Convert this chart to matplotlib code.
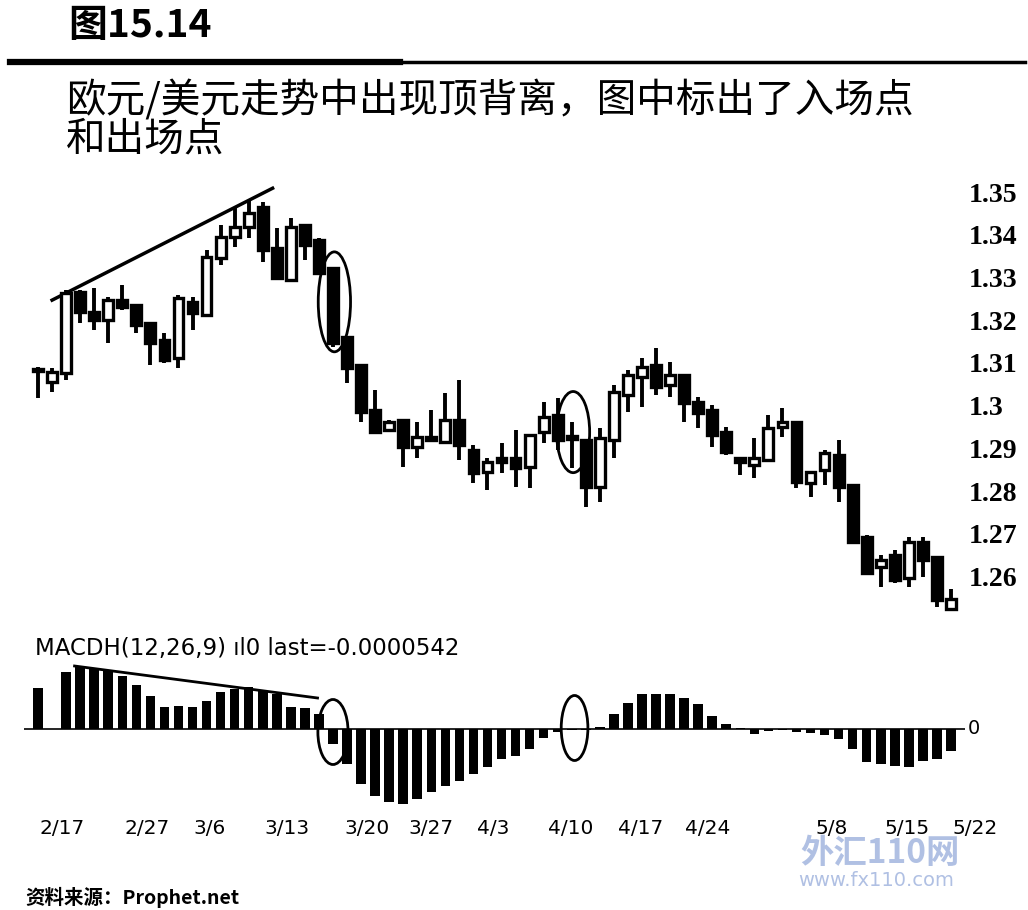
import numpy as np
import matplotlib.pyplot as plt
from matplotlib.patches import Rectangle, Ellipse
from matplotlib.lines import Line2D

# EUR/USD daily candles
opens = [1.3080, 1.3056, 1.3076, 1.3266, 1.3219, 1.3200, 1.3247, 1.3236, 1.3193, 1.3154,
         1.3112, 1.3243, 1.3212, 1.3345, 1.3395, 1.3418, 1.3465, 1.3369, 1.3294, 1.3423,
         1.3388, 1.3322, 1.3161, 1.3095, 1.2990, 1.2943, 1.2966, 1.2903, 1.2920, 1.2915,
         1.2966, 1.2896, 1.2845, 1.2878, 1.2878, 1.2857, 1.2938, 1.2978, 1.2929, 1.2920,
         1.2810, 1.2920, 1.3025, 1.3067, 1.3095, 1.3049, 1.3072, 1.3008, 1.2990, 1.2938,
         1.2878, 1.2862, 1.2873, 1.2950, 1.2962, 1.2819, 1.2850, 1.2885, 1.2814, 1.2693,
         1.2622, 1.2651, 1.2597, 1.2681, 1.2646, 1.2524]
highs = [1.3091, 1.3088, 1.3271, 1.3271, 1.3275, 1.3254, 1.3282, 1.3238, 1.3196, 1.3170,
         1.3259, 1.3254, 1.3364, 1.3423, 1.3463, 1.3481, 1.3477, 1.3416, 1.3439, 1.3425,
         1.3392, 1.3325, 1.3163, 1.3097, 1.3037, 1.2966, 1.2968, 1.2962, 1.2990, 1.3030,
         1.3060, 1.2908, 1.2878, 1.2913, 1.2943, 1.2931, 1.3009, 1.3018, 1.2962, 1.2920,
         1.2948, 1.3048, 1.3083, 1.3112, 1.3135, 1.3102, 1.3072, 1.3020, 1.3001, 1.2950,
         1.2880, 1.2924, 1.2978, 1.2995, 1.2962, 1.2845, 1.2896, 1.2920, 1.2814, 1.2697,
         1.2651, 1.2662, 1.2693, 1.2693, 1.2646, 1.2571]
lows = [1.3019, 1.3032, 1.3060, 1.3193, 1.3177, 1.3147, 1.3224, 1.3170, 1.3095, 1.3100,
        1.3088, 1.3177, 1.3210, 1.3329, 1.3371, 1.3392, 1.3336, 1.3299, 1.3289, 1.3340,
        1.3310, 1.3137, 1.3053, 1.2962, 1.2935, 1.2938, 1.2856, 1.2878, 1.2917, 1.2913,
        1.2873, 1.2819, 1.2803, 1.2842, 1.2810, 1.2807, 1.2913, 1.2896, 1.2854, 1.2763,
        1.2775, 1.2878, 1.2985, 1.2997, 1.3025, 1.3020, 1.2962, 1.2948, 1.2903, 1.2884,
        1.2838, 1.2831, 1.2873, 1.2927, 1.2807, 1.2786, 1.2814, 1.2775, 1.2679, 1.2604,
        1.2576, 1.2585, 1.2576, 1.2599, 1.2529, 1.2520]
closes = [1.3082, 1.3079, 1.3264, 1.3219, 1.3200, 1.3247, 1.3231, 1.3189, 1.3147, 1.3107,
          1.3252, 1.3217, 1.3348, 1.3395, 1.3418, 1.3451, 1.3364, 1.3299, 1.3418, 1.3376,
          1.3310, 1.3147, 1.3088, 1.2985, 1.2938, 1.2962, 1.2903, 1.2927, 1.2927, 1.2966,
          1.2908, 1.2842, 1.2868, 1.2868, 1.2854, 1.2931, 1.2973, 1.2920, 1.2922, 1.2810,
          1.2924, 1.3032, 1.3072, 1.3091, 1.3044, 1.3072, 1.3006, 1.2983, 1.2931, 1.2892,
          1.2868, 1.2878, 1.2948, 1.2962, 1.2821, 1.2845, 1.2889, 1.2810, 1.2681, 1.2608,
          1.2639, 1.2592, 1.2681, 1.2639, 1.2545, 1.2548]

# MACD histogram, units of 0.0001
macd_hist = [20.5, 0, 28.5, 31, 30, 29, 26.5, 22, 16.5, 11,
             11.5, 11, 14, 18.5, 20, 21, 19, 17.5, 11, 10.5,
             7.5, -7.5, -17.5, -27.5, -33.5, -36.5, -37.5, -35, -31.5, -28.5,
             -26, -22.5, -19, -15, -13.5, -10, -4.5, -1.5, -0.5, -0.5,
             1, 7.5, 13, 17.5, 17.5, 17.5, 15.5, 12.5, 6.5, 2.5,
             0.5, -2.5, -1, -0.5, -1.5, -2, -3, -5, -10, -16.5,
             -17.5, -18.5, -19, -16, -15, -11]

price_ticks = [1.26, 1.27, 1.28, 1.29, 1.30, 1.31, 1.32, 1.33, 1.34, 1.35]
price_labels = ["1.26", "1.27", "1.28", "1.29", "1.3", "1.31", "1.32", "1.33", "1.34", "1.35"]
date_pos = [1.7, 7.8, 12.2, 17.7, 23.4, 28.0, 32.4, 37.9, 42.9, 47.7, 56.5, 61.9, 66.7]
date_labels = ["2/17", "2/27", "3/6", "3/13", "3/20", "3/27", "4/3", "4/10", "4/17", "4/24",
               "5/8", "5/15", "5/22"]

W, H = 1028, 910
fig = plt.figure(figsize=(W / 100, H / 100), dpi=100)
cjk = ['Noto Sans CJK SC', 'DejaVu Sans']

# watermark, kept just below the date labels
fig.text(800 / W, 1 - 854 / H, "外汇110网", family=cjk, fontsize=24, weight='bold',
         style='italic', color='#8fa6d8', alpha=0.7, va='center', zorder=-1)
fig.text(798 / W, 1 - 880 / H, "www.fx110.com", fontsize=14, color='#8fa6d8', alpha=0.7,
         va='center', zorder=-1)

# header
fig.text(68 / W, 1 - 26 / H, "图15.14", family=cjk, fontsize=28, weight='bold', va='center')
fig.add_artist(Line2D([10 / W, 400 / W], [1 - 62 / H] * 2, color='black', lw=4.5))
fig.add_artist(Line2D([400 / W, 1025 / W], [1 - 62 / H] * 2, color='black', lw=2.5))
fig.text(66 / W, 1 - 101 / H, "欧元/美元走势中出现顶背离，图中标出了入场点", family=cjk,
         fontsize=28.5, va='center')
fig.text(66 / W, 1 - 139 / H, "和出场点", family=cjk, fontsize=28.5, va='center')

# price panel
ax = fig.add_axes([24 / W, 1 - 620 / H, 941 / W, 445 / H])
ax.patch.set_alpha(0)
x = np.arange(len(opens))
bw = 0.7
for i in x:
    o, h, l, c = opens[i], highs[i], lows[i], closes[i]
    ax.plot([i, i], [l, h], color='black', lw=2.8, solid_capstyle='butt', zorder=2)
    bot = min(o, c)
    ht = max(abs(c - o), 0.0005)
    face = 'black' if c < o else 'white'
    ax.add_patch(Rectangle((i - bw / 2, bot), bw, ht, facecolor=face, edgecolor='black',
                           lw=2.4, zorder=3))

ax.plot([1.0, 16.7], [1.3247, 1.3509], color='black', lw=2.5)
ax.add_patch(Ellipse((21.1, 1.3243), 2.3, 0.0234, fill=False, color='black', lw=2))
ax.add_patch(Ellipse((38.1, 1.2938), 2.35, 0.019, fill=False, color='black', lw=2))

ax.set_xlim(-1, 66)
ax.set_ylim(1.2498, 1.354)
ax.yaxis.tick_right()
ax.set_yticks(price_ticks)
ax.set_yticklabels(price_labels, family='Liberation Serif', fontsize=20, weight='bold')
ax.tick_params(axis='y', length=0, pad=3)
ax.set_xticks([])
for s in ax.spines.values():
    s.set_visible(False)

# MACD panel
axm = fig.add_axes([24 / W, 1 - 810 / H, 941 / W, 150 / H])
axm.patch.set_alpha(0)
axm.bar(x, macd_hist, width=0.68, color='black')
axm.axhline(0, color='black', lw=1.2)
axm.plot([2.6, 19.9], [31.5, 15.5], color='black', lw=2)
axm.add_patch(Ellipse((21.0, -1.5), 2.15, 32.5, fill=False, color='black', lw=2))
axm.add_patch(Ellipse((38.2, 0.5), 1.9, 32.5, fill=False, color='black', lw=2))
axm.set_xlim(-1, 66)
axm.set_ylim(-40.5, 34.5)
axm.set_xticks([])
axm.set_yticks([])
for s in axm.spines.values():
    s.set_visible(False)
axm.text(66.2, 0, "0", fontsize=14, va='center', ha='left')
for p, lab in zip(date_pos, date_labels):
    axm.text(p, -0.12, lab, transform=axm.get_xaxis_transform(), fontsize=14.5,
             ha='center', va='center', clip_on=False, zorder=5)

fig.text(35 / W, 1 - 648 / H, "MACDH(12,26,9) ıl0 last=-0.0000542", fontsize=16.5,
         va='center')

fig.text(25 / W, 1 - 897 / H, "资料来源：Prophet.net", family=cjk, fontsize=14,
         weight='bold', va='center')

fig.savefig("out.png", dpi=100)
